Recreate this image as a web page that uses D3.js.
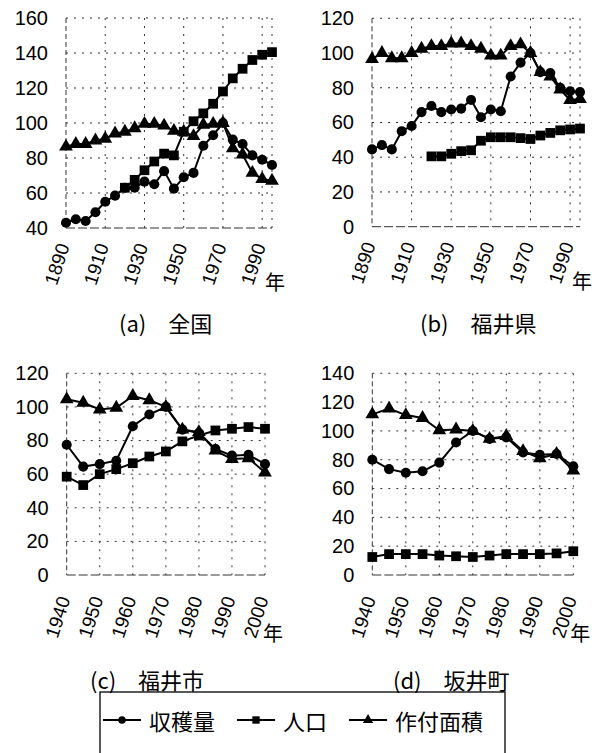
<!DOCTYPE html>
<html>
<head>
<meta charset="utf-8">
<script src="https://cdn.jsdelivr.net/npm/d3@7"></script>
<style>
  html, body { margin: 0; padding: 0; background: #fff; }
  svg { display: block; }
</style>
</head>
<body>
<svg id="chart" width="600" height="753"></svg>
<script>
// ---- categories ----
const yearsLong = [1890, 1895, 1900, 1905, 1910, 1915, 1920, 1925, 1930, 1935, 1940,
                   1945, 1950, 1955, 1960, 1965, 1970, 1975, 1980, 1985, 1990, 1995];
const yearsPostwar = [1940, 1945, 1950, 1955, 1960, 1965, 1970, 1975, 1980, 1985, 1990, 1995, 2000];
const tickYearsLong = [1890, 1910, 1930, 1950, 1970, 1990];
const tickYearsPostwar = [1940, 1950, 1960, 1970, 1980, 1990, 2000];

// ---- (a) 全国 ----
const harvestA = [43, 45, 44, 49, 55, 58.5, 63, 63, 66.5, 65, 72.5, 62.5, 69, 71.5, 87, 93, 100, 90.5, 88, 81.5, 79, 76];
const populationA = [null, null, null, null, null, null, 63, 67.5, 73, 78, 82.5, 81.5, 95, 101, 105.5, 111, 118, 125.5, 131, 136, 139, 140.5];
const areaA = [86.5, 88, 88, 90, 91, 94, 95, 97, 99.5, 99.5, 98.5, 95.5, 95, 92.5, 99, 99.5, 100, 85.5, 82, 71.5, 68, 67];

// ---- (b) 福井県 ----
const harvestB = [44.5, 47, 44.5, 55, 58, 66, 69.5, 66, 67.5, 68, 73, 63, 67.5, 66.5, 86.5, 94.5, 100, 89, 88.5, 80, 78, 77.5];
const populationB = [null, null, null, null, null, null, 40.5, 40.5, 42, 43.5, 44, 49.5, 51.5, 51.5, 51.5, 51, 50.5, 52.5, 54, 55.5, 56, 56.5];
const areaB = [96.5, 100, 97, 97, 100, 102.5, 104, 104, 105.5, 105.5, 104, 102.5, 98.5, 98.5, 104, 105, 100, 89, 86.5, 79, 73, 73.5];

// ---- (c) 福井市 ----
const harvestC = [77.5, 64.5, 66, 68, 88.5, 95.5, 100, 86.5, 84.5, 75, 71, 71.5, 66];
const populationC = [58.5, 53.5, 60, 63, 66.5, 70.5, 73.5, 79.5, 83, 86, 87, 88, 87];
const areaC = [104.5, 102.5, 98.5, 99.5, 106.5, 104, 100, 86.5, 85, 74, 69, 69.5, 61];

// ---- (d) 坂井町 ----
const harvestD = [80, 73.5, 71, 72, 78, 92, 100, 94.5, 95.5, 85, 83.5, 84, 75.5];
const populationD = [12.5, 14.5, 14.5, 14.5, 13.5, 13, 12.5, 13.5, 14.5, 14.5, 14.5, 15, 16.5];
const areaD = [111.5, 115.5, 111, 109, 100.5, 101, 100, 94.5, 96.5, 86, 81, 84, 72.5];

// ---- axis ticks and labels ----
const yTicksA = [40, 60, 80, 100, 120, 140, 160];
const yTicksB = [0, 20, 40, 60, 80, 100, 120];
const yTicksC = [0, 20, 40, 60, 80, 100, 120];
const yTicksD = [0, 20, 40, 60, 80, 100, 120, 140];
const captions = [["(a)", "全国"], ["(b)", "福井県"], ["(c)", "福井市"], ["(d)", "坂井町"]];
const seriesNames = ["収穫量", "人口", "作付面積"];
const yearUnit = "年";

const NUM_FONT = "'Liberation Sans', Arial, sans-serif";
const JP_FONT = "'Noto Sans CJK JP', 'Noto Sans', sans-serif";

const svg = d3.select("#chart");

const panels = [
  { years: yearsLong, ticks: tickYearsLong, yTicks: yTicksA, domain: [40, 160],
    series: [harvestA, populationA, areaA], caption: captions[0],
    x0: 66, x1: 272, yTop: 18, yBot: 228, labelDy: 16, unitDx: -7, unitDy: 53, capX: 119, capY: 322 },
  { years: yearsLong, ticks: tickYearsLong, yTicks: yTicksB, domain: [0, 120],
    series: [harvestB, populationB, areaB], caption: captions[1],
    x0: 372, x1: 580, yTop: 18.3, yBot: 226.7, labelDy: 16, unitDx: -8, unitDy: 54, capX: 420, capY: 322 },
  { years: yearsPostwar, ticks: tickYearsPostwar, yTicks: yTicksC, domain: [0, 120],
    series: [harvestC, populationC, areaC], caption: captions[2],
    x0: 66.7, x1: 265, yTop: 373.3, yBot: 575, labelDy: 22, unitDx: -2, unitDy: 57, capX: 90, capY: 679 },
  { years: yearsPostwar, ticks: tickYearsPostwar, yTicks: yTicksD, domain: [0, 140],
    series: [harvestD, populationD, areaD], caption: captions[3],
    x0: 372.3, x1: 573.3, yTop: 373.3, yBot: 575, labelDy: 22, unitDx: -3, unitDy: 57, capX: 393, capY: 679 }
];

// marker drawers: circle, square, triangle
const markerPaths = [
  d3.symbol(d3.symbolCircle, 80)(),
  d3.symbol(d3.symbolSquare, 95)(),
  d3.symbol(d3.symbolTriangle, 82)()
];

panels.forEach(p => {
  const g = svg.append("g");
  const x = d3.scalePoint().domain(p.years).range([p.x0, p.x1]);
  const y = d3.scaleLinear().domain(p.domain).range([p.yBot, p.yTop]);

  // horizontal grid
  g.append("g").selectAll("line").data(p.yTicks).join("line")
    .attr("x1", p.x0).attr("x2", p.x1)
    .attr("y1", d => y(d)).attr("y2", d => y(d))
    .attr("stroke", "#333").attr("stroke-width", 1)
    .attr("stroke-dasharray", d => d === p.domain[0] ? "9,3" : "2,6");

  // vertical grid at labelled years plus right edge
  const vLines = Array.from(new Set([...p.ticks, p.years[p.years.length - 1]]));
  g.append("g").selectAll("line").data(vLines).join("line")
    .attr("x1", d => x(d)).attr("x2", d => x(d))
    .attr("y1", p.yTop).attr("y2", p.yBot)
    .attr("stroke", "#333").attr("stroke-width", 1)
    .attr("stroke-dasharray", d => d === p.years[0] ? "5,3" : "2,6");

  // y axis labels
  const yAxis = g.append("g").attr("transform", `translate(${p.x0},0)`)
    .call(d3.axisLeft(y).tickValues(p.yTicks).tickSize(0).tickPadding(18).tickFormat(d3.format("d")));
  yAxis.select(".domain").remove();
  yAxis.selectAll("text").attr("font-family", NUM_FONT).attr("font-size", 20).attr("fill", "#000");

  // x axis labels, rotated
  const xAxis = g.append("g").attr("transform", `translate(0,${p.yBot})`)
    .call(d3.axisBottom(x).tickValues(p.ticks).tickSize(0).tickPadding(0).tickFormat(d3.format("d")));
  xAxis.select(".domain").remove();
  xAxis.selectAll("text")
    .attr("font-family", NUM_FONT).attr("font-size", 19).attr("fill", "#000")
    .attr("text-anchor", "end")
    .attr("y", 0).attr("dy", "0.35em")
    .attr("transform", `translate(-3,${p.labelDy}) rotate(-72)`);

  // year unit
  g.append("text").attr("x", p.x1 + p.unitDx).attr("y", p.yBot + p.unitDy)
    .attr("font-family", JP_FONT).attr("font-size", 20).attr("dominant-baseline", "central")
    .text(yearUnit);

  // series lines and markers
  p.series.forEach((vals, si) => {
    const pts = p.years.map((yr, i) => ({ yr, v: vals[i] })).filter(d => d.v != null);
    g.append("path").datum(pts)
      .attr("fill", "none").attr("stroke", "#000").attr("stroke-width", 2)
      .attr("d", d3.line().x(d => x(d.yr)).y(d => y(d.v)));
    g.append("g").selectAll("path").data(pts).join("path")
      .attr("d", markerPaths[si])
      .attr("transform", d => `translate(${x(d.yr)},${y(d.v)})`)
      .attr("fill", "#000");
  });

  // caption
  const cap = g.append("text").attr("x", p.capX).attr("y", p.capY)
    .attr("font-family", JP_FONT).attr("font-size", 22).attr("dominant-baseline", "central");
  cap.append("tspan").text(p.caption[0]);
  cap.append("tspan").attr("dx", 22).text(p.caption[1]);
});

// legend
const lg = svg.append("g");
lg.append("rect").attr("x", 100).attr("y", 692).attr("width", 405).attr("height", 80)
  .attr("fill", "none").attr("stroke", "#000").attr("stroke-width", 1.3);
let lx = 103;
const ly = 720;
seriesNames.forEach((name, i) => {
  lg.append("line").attr("x1", lx).attr("x2", lx + 38).attr("y1", ly).attr("y2", ly)
    .attr("stroke", "#000").attr("stroke-width", 2);
  lg.append("path").attr("d", markerPaths[i]).attr("transform", `translate(${lx + 19},${ly}) scale(0.75)`).attr("fill", "#000");
  const t = lg.append("text").attr("x", lx + 46).attr("y", ly)
    .attr("font-family", JP_FONT).attr("font-size", 22).attr("dominant-baseline", "central")
    .text(name);
  lx = lx + 46 + t.node().getComputedTextLength() + 22;
});
</script>
</body>
</html>
